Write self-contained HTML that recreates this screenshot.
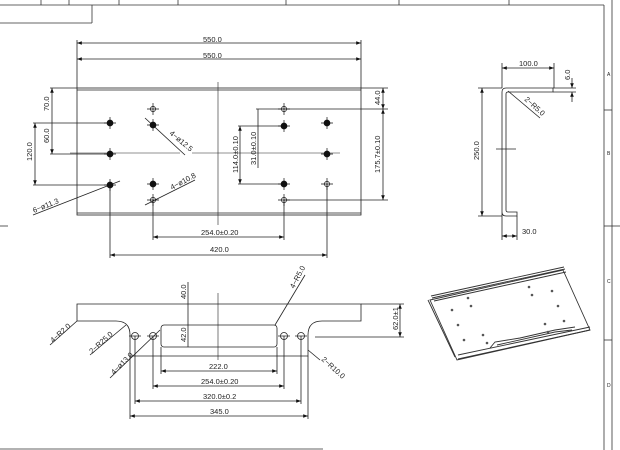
<!DOCTYPE html>
<html><head><meta charset="utf-8"><style>
html,body{margin:0;padding:0;background:#fff;}
svg{display:block;font-family:"Liberation Sans",sans-serif;}
text{font-size:7.5px;fill:#222;}
</style></head><body>
<svg width="620" height="450" viewBox="0 0 620 450" xmlns="http://www.w3.org/2000/svg">
<defs>
<marker id="a" viewBox="0 0 8 6" refX="8" refY="3" markerWidth="6" markerHeight="4.5" orient="auto-start-reverse"><path d="M0,0L8,3L0,6z" fill="#111"/></marker>
</defs>
<g stroke="#333" stroke-width="0.8" fill="none">
<line x1="0" y1="5" x2="604" y2="5"/>
<line x1="0" y1="23" x2="92" y2="23"/><line x1="92" y1="5" x2="92" y2="23"/>
<line x1="41" y1="0" x2="41" y2="5"/><line x1="69" y1="0" x2="69" y2="5"/><line x1="119" y1="0" x2="119" y2="5"/><line x1="178" y1="0" x2="178" y2="5"/><line x1="286" y1="0" x2="286" y2="5"/><line x1="399" y1="0" x2="399" y2="5"/><line x1="509" y1="0" x2="509" y2="5"/>
<line x1="604" y1="5" x2="604" y2="450"/><line x1="612" y1="0" x2="612" y2="450"/>
<line x1="604" y1="110" x2="612" y2="110"/><line x1="604" y1="226" x2="620" y2="226"/><line x1="604" y1="340" x2="612" y2="340"/>
<line x1="0" y1="449" x2="323" y2="449"/>
<line x1="0" y1="226" x2="8" y2="226"/>
</g>
<text x="607" y="76" style="font-size:5px">A</text><text x="607" y="155" style="font-size:5px">B</text><text x="607" y="283" style="font-size:5px">C</text><text x="607" y="387" style="font-size:5px">D</text>

<g stroke="#222" stroke-width="0.8" fill="none">
<rect x="77" y="88" width="284" height="127"/>
<line x1="77" y1="90" x2="361" y2="90"/><line x1="77" y1="213" x2="361" y2="213"/>
<line x1="77" y1="40" x2="77" y2="88"/><line x1="361" y1="40" x2="361" y2="88"/>
<line x1="77" y1="43" x2="361" y2="43" marker-start="url(#a)" marker-end="url(#a)"/>
<line x1="77" y1="59" x2="361" y2="59" marker-start="url(#a)" marker-end="url(#a)"/>
<line x1="218" y1="82" x2="218" y2="225" stroke-width="0.6"/>
<line x1="70" y1="153" x2="180" y2="153" stroke-width="0.6"/><line x1="192" y1="153" x2="340" y2="153" stroke-width="0.6"/>
<line x1="50" y1="88" x2="77" y2="88"/><line x1="33" y1="123" x2="110" y2="123"/><line x1="50" y1="154" x2="110" y2="154"/><line x1="33" y1="185" x2="110" y2="185"/>
<line x1="52" y1="88" x2="52" y2="154" marker-start="url(#a)" marker-end="url(#a)"/>
<line x1="35" y1="123" x2="35" y2="185" marker-start="url(#a)" marker-end="url(#a)"/>
<line x1="361" y1="88" x2="388" y2="88"/><line x1="256" y1="109" x2="388" y2="109"/><line x1="284" y1="200" x2="388" y2="200"/>
<line x1="383" y1="88" x2="383" y2="109" marker-start="url(#a)" marker-end="url(#a)"/>
<line x1="383" y1="109" x2="383" y2="200" marker-start="url(#a)" marker-end="url(#a)"/>
<line x1="238" y1="126" x2="284" y2="126"/><line x1="238" y1="184" x2="284" y2="184"/>
<line x1="240" y1="126" x2="240" y2="184" marker-start="url(#a)" marker-end="url(#a)"/>
<line x1="258" y1="109" x2="258" y2="168"/>
<line x1="153" y1="200" x2="153" y2="240"/><line x1="284" y1="200" x2="284" y2="240"/>
<line x1="110" y1="185" x2="110" y2="258"/><line x1="327" y1="184" x2="327" y2="258"/>
<line x1="153" y1="237" x2="284" y2="237" marker-start="url(#a)" marker-end="url(#a)"/>
<line x1="110" y1="255" x2="327" y2="255" marker-start="url(#a)" marker-end="url(#a)"/>
<line x1="145" y1="118" x2="185" y2="155"/>
<line x1="145" y1="205" x2="195" y2="180"/>
<line x1="33" y1="215" x2="120" y2="181"/>
</g>
<g stroke="#111" stroke-width="0.7">
<g fill="#111">
<circle cx="110" cy="123" r="3"/><circle cx="110" cy="154" r="3"/><circle cx="110" cy="185" r="3"/>
<circle cx="153" cy="125" r="3"/><circle cx="153" cy="184" r="3"/>
<circle cx="284" cy="126" r="3"/><circle cx="284" cy="184" r="3"/>
<circle cx="327" cy="123" r="3"/><circle cx="327" cy="154" r="3"/>
</g>
<g fill="none">
<circle cx="153" cy="109" r="2.6"/><circle cx="153" cy="200" r="2.6"/><circle cx="284" cy="109" r="2.6"/><circle cx="284" cy="200" r="2.6"/><circle cx="327" cy="184" r="2.6"/>
</g>
<path d="M104 123h12M110 117v12M104 154h12M110 148v12M104 185h12M110 179v12M147 125h12M153 119v12M147 184h12M153 178v12M278 126h12M284 120v12M278 184h12M284 178v12M321 123h12M327 117v12M321 154h12M327 148v12M321 184h12M327 178v12M147 109h12M153 103v12M147 200h12M153 194v12M278 109h12M284 103v12M278 200h12M284 194v12"/>
</g>
<text x="203" y="42">550.0</text><text x="203" y="58">550.0</text>
<text transform="translate(49,111) rotate(-90)">70.0</text>
<text transform="translate(49,143) rotate(-90)">60.0</text>
<text transform="translate(32,161) rotate(-90)">120.0</text>
<text transform="translate(380,105) rotate(-90)">44.0</text>
<text transform="translate(380,173) rotate(-90)">175.7±0.10</text>
<text transform="translate(238,173) rotate(-90)">114.0±0.10</text>
<text transform="translate(256,165) rotate(-90)">31.0±0.10</text>
<text transform="translate(169,134) rotate(40)">4−ø12.5</text>
<text transform="translate(172,190) rotate(-28)">4−ø10.8</text>
<text transform="translate(34,213) rotate(-22)">6−ø11.3</text>
<text x="201" y="235">254.0±0.20</text>
<text x="210" y="252">420.0</text>

<g stroke="#222" stroke-width="0.8" fill="none">
<path d="M502 216V92q0-4 4-4H553V92H508q-2 0-2 2V210q0 2 2 2H517V216H506q-4 0-4-4z"/>
<line x1="502" y1="63" x2="502" y2="88"/><line x1="554" y1="63" x2="554" y2="88"/>
<line x1="502" y1="68" x2="554" y2="68" marker-start="url(#a)" marker-end="url(#a)"/>
<line x1="553" y1="88" x2="576" y2="88"/><line x1="553" y1="92" x2="576" y2="92"/>
<line x1="572" y1="78" x2="572" y2="88" marker-end="url(#a)"/><line x1="572" y1="102" x2="572" y2="92" marker-end="url(#a)"/>
<line x1="478" y1="88" x2="502" y2="88"/><line x1="478" y1="216" x2="502" y2="216"/>
<line x1="482" y1="88" x2="482" y2="216" marker-start="url(#a)" marker-end="url(#a)"/>
<line x1="517" y1="216" x2="517" y2="240"/><line x1="502" y1="216" x2="502" y2="240"/>
<line x1="502" y1="236" x2="517" y2="236" marker-start="url(#a)" marker-end="url(#a)"/>
<line x1="540" y1="118" x2="508" y2="91"/>
<line x1="496" y1="149" x2="516" y2="149"/>
</g>
<text x="519" y="66">100.0</text>
<text transform="translate(570,80) rotate(-90)">6.0</text>
<text transform="translate(479,160) rotate(-90)">250.0</text>
<text x="522" y="234">30.0</text>
<text transform="translate(524,100) rotate(42)">2−R5.0</text>

<g stroke="#222" stroke-width="0.8" fill="none">
<path d="M77 304H361V321H322q-14 0-14 14V356H130V335q0-14-14-14H77z"/>
<rect x="161" y="325" width="116" height="22" rx="3"/>
<line x1="218" y1="293" x2="218" y2="360" stroke-width="0.6"/>
<line x1="188" y1="282" x2="188" y2="325"/><line x1="188" y1="325" x2="188" y2="347"/>
<line x1="361" y1="304" x2="404" y2="304"/><line x1="315" y1="337" x2="404" y2="337"/>
<line x1="400" y1="304" x2="400" y2="337" marker-start="url(#a)" marker-end="url(#a)"/>
<line x1="161" y1="347" x2="161" y2="374"/><line x1="277" y1="347" x2="277" y2="374"/>
<line x1="153" y1="336" x2="153" y2="389"/><line x1="284" y1="336" x2="284" y2="389"/>
<line x1="135" y1="336" x2="135" y2="404"/><line x1="301" y1="336" x2="301" y2="404"/>
<line x1="130" y1="356" x2="130" y2="419"/><line x1="308" y1="356" x2="308" y2="419"/>
<line x1="161" y1="371" x2="277" y2="371" marker-start="url(#a)" marker-end="url(#a)"/>
<line x1="153" y1="386" x2="284" y2="386" marker-start="url(#a)" marker-end="url(#a)"/>
<line x1="135" y1="401" x2="301" y2="401" marker-start="url(#a)" marker-end="url(#a)"/>
<line x1="130" y1="416" x2="308" y2="416" marker-start="url(#a)" marker-end="url(#a)"/>
<line x1="50" y1="345" x2="77" y2="321"/>
<line x1="90" y1="355" x2="126" y2="325"/>
<line x1="110" y1="378" x2="160" y2="330"/>
<line x1="275" y1="325" x2="305" y2="275"/>
<line x1="308" y1="350" x2="320" y2="360"/>
<circle cx="135" cy="336" r="3.5"/><circle cx="153" cy="336" r="3.5"/><circle cx="284" cy="336" r="3.5"/><circle cx="301" cy="336" r="3.5"/>
<path d="M129 336h12M147 336h12M278 336h12M295 336h12"/>
</g>
<text transform="translate(186,299) rotate(-90)">40.0</text>
<text transform="translate(186,342) rotate(-90)">42.0</text>
<text transform="translate(398,330) rotate(-90)">62.0±1</text>
<text x="209" y="369">222.0</text>
<text x="201" y="384">254.0±0.20</text>
<text x="203" y="399">320.0±0.2</text>
<text x="210" y="414">345.0</text>
<text transform="translate(53,343) rotate(-42)">4−R2.0</text>
<text transform="translate(92,354) rotate(-42)">2−R25.0</text>
<text transform="translate(114,375) rotate(-45)">4−ø13.0</text>
<text transform="translate(294,289) rotate(-62)">4−R5.0</text>
<text transform="translate(321,360) rotate(42)">2−R10.0</text>

<g stroke="#333" stroke-width="0.9" fill="none">
<path d="M430 300L563 270L590 330L457 360z"/>
<path d="M431 296L564 267M432 298L565 269M434 301L566 272M428 300L455 357"/>
<path d="M497 345L555 332L572 330M490 348L495 342L520 338L555 330L575 327"/>
<path d="M458 359L590 330M458 355L590 327"/>
</g>
<g fill="#555">
<circle cx="452" cy="310" r="1.3"/><circle cx="468" cy="298" r="1.3"/><circle cx="471" cy="306" r="1.3"/><circle cx="458" cy="325" r="1.3"/><circle cx="464" cy="340" r="1.3"/><circle cx="483" cy="335" r="1.3"/><circle cx="487" cy="343" r="1.3"/><circle cx="529" cy="287" r="1.3"/><circle cx="532" cy="295" r="1.3"/><circle cx="552" cy="291" r="1.3"/><circle cx="558" cy="306" r="1.3"/><circle cx="545" cy="324" r="1.3"/><circle cx="564" cy="321" r="1.3"/><circle cx="548" cy="332" r="1.3"/>
</g>
</svg>
</body></html>
